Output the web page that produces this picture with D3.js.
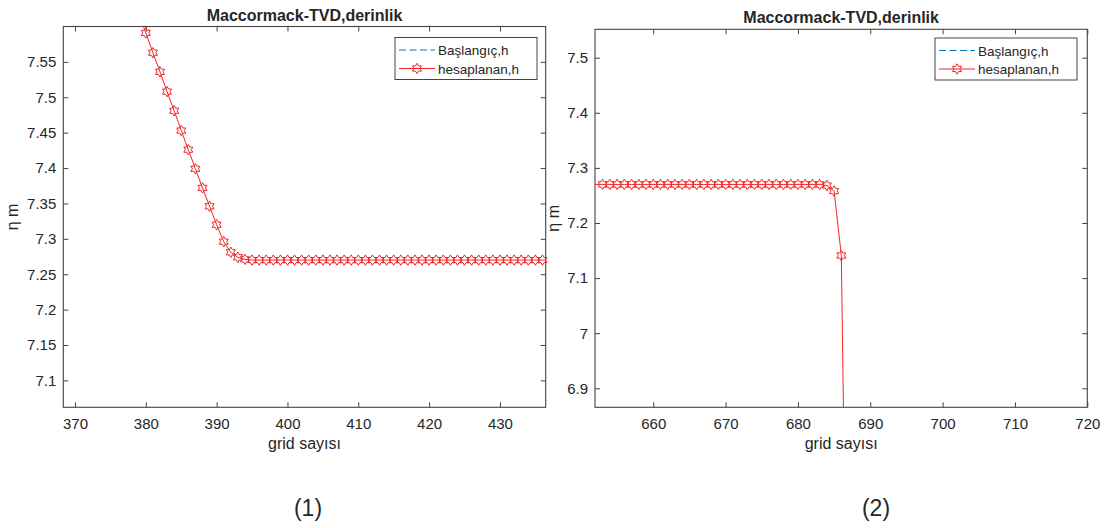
<!DOCTYPE html>
<html>
<head>
<meta charset="utf-8">
<script src="https://cdn.jsdelivr.net/npm/d3@7"></script>
<style>
  html, body { margin: 0; padding: 0; background: #fff; }
  svg { display: block; }
  text { font-family: "Liberation Sans", Arial, Helvetica, sans-serif; fill: #262626; }
</style>
</head>
<body>
<svg id="fig" width="1113" height="528"></svg>
<script>
// Panel (1): computed depth near the left front
const grid1 = [379, 380, 381, 382, 383, 384, 385, 386, 387, 388, 389, 390, 391, 392, 393, 394,
  395, 396, 397, 398, 399, 400, 401, 402, 403, 404, 405, 406, 407, 408, 409, 410, 411, 412, 413,
  414, 415, 416, 417, 418, 419, 420, 421, 422, 423, 424, 425, 426, 427, 428, 429, 430, 431, 432,
  433, 434, 435, 436, 437];
const depth1 = [7.618, 7.591, 7.563, 7.536, 7.508, 7.481, 7.453, 7.426, 7.399, 7.372, 7.346, 7.320,
  7.296, 7.281, 7.274, 7.271,
  7.270, 7.270, 7.270, 7.270, 7.270, 7.270, 7.270, 7.270, 7.270, 7.270, 7.270, 7.270, 7.270, 7.270,
  7.270, 7.270, 7.270, 7.270, 7.270, 7.270, 7.270, 7.270, 7.270, 7.270, 7.270, 7.270, 7.270, 7.270,
  7.270, 7.270, 7.270, 7.270, 7.270, 7.270, 7.270, 7.270, 7.270, 7.270, 7.270, 7.270, 7.270, 7.270,
  7.270];

// Panel (2): computed depth near the right front
const grid2 = [651, 652, 653, 654, 655, 656, 657, 658, 659, 660, 661, 662, 663, 664, 665, 666, 667,
  668, 669, 670, 671, 672, 673, 674, 675, 676, 677, 678, 679, 680, 681, 682, 683, 684, 685, 686, 687];
const depth2 = [7.270, 7.270, 7.270, 7.270, 7.270, 7.270, 7.270, 7.270, 7.270, 7.270, 7.270, 7.270,
  7.270, 7.270, 7.270, 7.270, 7.270, 7.270, 7.270, 7.270, 7.270, 7.270, 7.270, 7.270, 7.270, 7.270,
  7.270, 7.270, 7.270, 7.270, 7.270, 7.270, 7.270, 7.268, 7.258, 7.141, 6.19];

// Axis limits and ticks
const xLim1 = [368.35, 436.46], yLim1 = [7.062, 7.6];
const xTicks1 = [370, 380, 390, 400, 410, 420, 430];
const yTicks1 = [7.1, 7.15, 7.2, 7.25, 7.3, 7.35, 7.4, 7.45, 7.5, 7.55];
const xLim2 = [651.95, 720], yLim2 = [6.8655, 7.5515];
const xTicks2 = [660, 670, 680, 690, 700, 710, 720];
const yTicks2 = [6.9, 7, 7.1, 7.2, 7.3, 7.4, 7.5];

// Labels
const titleText = "Maccormack-TVD,derinlik";
const xLabelText = "grid sayısı";
const yLabelText = "η m";
const legendLabels = ["Başlangıç,h", "hesaplanan,h"];
const captions = ["(1)", "(2)"];

const svg = d3.select("#fig");
const RED = "#f02424";
const BLUE = "#0072BD";
const AXIS = "#444444";

// Six-pointed star outline (hexagram marker)
function hexagram(r) {
  const ri = r / Math.sqrt(3);
  const pts = [];
  for (let k = 0; k < 12; k++) {
    const a = -Math.PI / 2 + k * Math.PI / 6;
    const rr = k % 2 === 0 ? r : ri;
    pts.push([rr * Math.cos(a), rr * Math.sin(a)]);
  }
  return "M" + pts.map(p => p[0].toFixed(2) + "," + p[1].toFixed(2)).join("L") + "Z";
}
const markerPath = hexagram(5.2);

function panel(cfg) {
  const { id, box, xLim, yLim, xTicks, yTicks, xs, ys, caption, captionX } = cfg;
  const x = d3.scaleLinear().domain(xLim).range([box.left, box.right]);
  const y = d3.scaleLinear().domain(yLim).range([box.bottom, box.top]);
  const g = svg.append("g");

  g.append("clipPath").attr("id", "clip" + id)
    .append("rect")
    .attr("x", box.left).attr("y", box.top)
    .attr("width", box.right - box.left).attr("height", box.bottom - box.top);

  const tickLen = 5;
  const fmt = d => d3.format("~g")(d);

  // bottom and left axes with inward ticks
  const xAxis = d3.axisBottom(x).tickValues(xTicks).tickFormat(fmt).tickSizeInner(-tickLen).tickSizeOuter(0).tickPadding(11);
  const yAxis = d3.axisLeft(y).tickValues(yTicks).tickFormat(fmt).tickSizeInner(-tickLen).tickSizeOuter(0).tickPadding(7);
  const gx = g.append("g").attr("transform", `translate(0,${box.bottom})`).call(xAxis);
  const gy = g.append("g").attr("transform", `translate(${box.left},0)`).call(yAxis);
  // top and right mirrored ticks
  const gxt = g.append("g").attr("transform", `translate(0,${box.top})`)
    .call(d3.axisTop(x).tickValues(xTicks).tickFormat("").tickSizeInner(-tickLen).tickSizeOuter(0));
  const gyr = g.append("g").attr("transform", `translate(${box.right},0)`)
    .call(d3.axisRight(y).tickValues(yTicks).tickFormat("").tickSizeInner(-tickLen).tickSizeOuter(0));

  [gx, gy, gxt, gyr].forEach(a => {
    a.select(".domain").remove();
    a.selectAll("line").attr("stroke", AXIS).attr("stroke-width", 1);
    a.selectAll("text").attr("font-size", 15).attr("fill", "#2e2e2e")
      .attr("font-family", "'Liberation Sans', Arial, sans-serif");
  });

  // axes box
  g.append("rect")
    .attr("x", box.left).attr("y", box.top)
    .attr("width", box.right - box.left).attr("height", box.bottom - box.top)
    .attr("fill", "none").attr("stroke", AXIS).attr("stroke-width", 1.1);

  // data
  const pts = xs.map((v, i) => [v, ys[i]]);
  const plot = g.append("g").attr("clip-path", `url(#clip${id})`);
  plot.append("path")
    .attr("d", d3.line().x(d => x(d[0])).y(d => y(d[1]))(pts))
    .attr("fill", "none").attr("stroke", RED).attr("stroke-width", 1);

  const inside = pts.filter(d => d[0] >= xLim[0] + 0.3 && d[0] <= xLim[1] + 0.1 && d[1] <= yLim[1] && d[1] >= yLim[0]);
  g.append("g").selectAll("path").data(inside).join("path")
    .attr("d", markerPath)
    .attr("transform", d => `translate(${x(d[0])},${y(d[1])})`)
    .attr("fill", "none").attr("stroke", RED).attr("stroke-width", 1);

  // title and labels
  const cx = (box.left + box.right) / 2;
  g.append("text").attr("x", cx).attr("y", box.top - 6)
    .attr("text-anchor", "middle").attr("font-size", 16).attr("font-weight", "bold")
    .attr("fill", "#000").text(titleText);
  g.append("text").attr("x", cx).attr("y", box.bottom + 42)
    .attr("text-anchor", "middle").attr("font-size", 16).text(xLabelText);
  g.append("text")
    .attr("transform", `translate(${cfg.yLabelX},${(box.top + box.bottom) / 2}) rotate(-90)`)
    .attr("text-anchor", "middle").attr("font-size", 16).text(yLabelText);

  // legend
  const lg = cfg.legend;
  const L = g.append("g");
  L.append("rect").attr("x", lg.x).attr("y", lg.y).attr("width", lg.w).attr("height", lg.h)
    .attr("fill", "#fff").attr("stroke", AXIS).attr("stroke-width", 1);
  const rowY = [lg.y + 12.5, lg.y + 31];
  const lx0 = lg.x + 4, lx1 = lg.x + 40;
  L.append("line").attr("x1", lx0).attr("x2", lx1).attr("y1", rowY[0]).attr("y2", rowY[0])
    .attr("stroke", BLUE).attr("stroke-width", 1).attr("stroke-dasharray", "7,3.5");
  L.append("line").attr("x1", lx0).attr("x2", lx1).attr("y1", rowY[1]).attr("y2", rowY[1])
    .attr("stroke", RED).attr("stroke-width", 1);
  L.append("path").attr("d", markerPath)
    .attr("transform", `translate(${(lx0 + lx1) / 2},${rowY[1]})`)
    .attr("fill", "none").attr("stroke", RED).attr("stroke-width", 1);
  legendLabels.forEach((t, i) => {
    L.append("text").attr("x", lx1 + 3).attr("y", rowY[i] + 5)
      .attr("font-size", 13.5).text(t);
  });

  // panel caption
  svg.append("text").attr("x", captionX).attr("y", 516)
    .attr("text-anchor", "middle").attr("font-size", 23)
    .attr("font-family", "'Open Sans', 'Noto Sans', sans-serif").attr("fill", "#111")
    .text(caption);
}

panel({
  id: 1,
  box: { left: 63.3, right: 545.7, top: 26.5, bottom: 407.3 },
  xLim: xLim1, yLim: yLim1, xTicks: xTicks1, yTicks: yTicks1,
  xs: grid1, ys: depth1,
  yLabelX: 18,
  legend: { x: 395, y: 37.5, w: 142, h: 42 },
  caption: captions[0], captionX: 308
});

panel({
  id: 2,
  box: { left: 595, right: 1087.3, top: 29.3, bottom: 407.3 },
  xLim: xLim2, yLim: yLim2, xTicks: xTicks2, yTicks: yTicks2,
  xs: grid2, ys: depth2,
  yLabelX: 559,
  legend: { x: 935, y: 38, w: 142, h: 42 },
  caption: captions[1], captionX: 876
});
</script>
</body>
</html>
